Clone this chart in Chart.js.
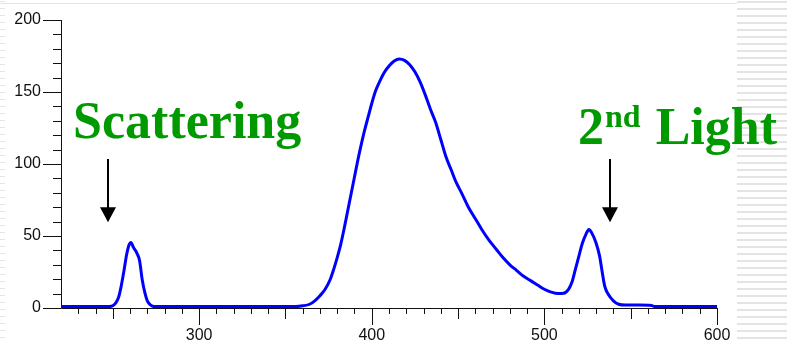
<!DOCTYPE html>
<html>
<head>
<meta charset="utf-8">
<script src="https://cdn.jsdelivr.net/npm/chart.js@4.4.1/dist/chart.umd.min.js"></script>
<style>
  html, body { margin: 0; padding: 0; background: #fff; }
  #wrap { width: 787px; height: 342px; position: relative; }
</style>
</head>
<body>
<div id="wrap"><canvas id="mycanvas" width="787" height="342"></canvas></div>
<script>
// emission spectrum
const wavelength = [220,230,240,248,250,252,253.5,255,256.5,258,259.5,260.5,262,264,265.5,267,268.5,270,272,274,290,320,350,356,
  360,364,367,370,373,376,378,380,382,384,386,388,390,392,394,396,398,400,402,404.5,407,410,413,416,419,422,425,428,431,434,
  437,440,443,446,449,452,456,460,464,468,472,476,480,484,488,492,496,500,504,508,511,514,516,518,520,522,524,525.8,527.5,
  530,532,533.5,535,537,540,543,547,555,562,564,580,600];
const intensity = [1,1,1,1,1.5,4,8,16,26,37,44,45.5,42,38,33,20,11,5,2,1,1,1,1,1,
  1.5,2.6,5,8.5,13,20,27,35,44,55,67,79,91,103,114,124,133,142,150,157,163,168,171.5,173,172,169,164,157,148,138,
  129,117,105,96,87,80,70,62,54,47,41,35,30,26,22,19,16,13,11,10,10.2,13,18,27,36,45,51,54.5,52,
  45,36,25,15,9.5,5,2.6,2,2,1.8,1,1,1];

const xMin = 220, xMax = 600;
const yMin = 0, yMax = 200;
const xLabels = [300, 400, 500, 600];
const yLabels = [0, 50, 100, 150, 200];

// annotations, positioned in data units
const notes = [
  {text: "Scattering", x: 227, y: 118, arrowX: 247, arrowTop: 103.5, arrowTip: 59.5},
  {text: "2", sup: "nd", rest: "Light", x: 519.5, y: 114, arrowX: 538.3, arrowTop: 103.5, arrowTip: 59.5}
];

const points = wavelength.map((w, i) => ({x: w, y: intensity[i]}));

const backdrop = {
  id: "backdrop",
  beforeDraw(chart) {
    const ctx = chart.ctx;
    ctx.save();
    ctx.fillStyle = "#fff";
    ctx.fillRect(0, 0, chart.width, chart.height);
    ctx.fillStyle = "#e4e4e4";
    for (let y = 1; y < chart.height; y += 7) {
      ctx.fillRect(737, y, 50, 2);
      ctx.fillRect(0, y, 5, 1);
    }
    ctx.fillRect(0, 3, 737, 1);
    ctx.restore();
  }
};

const axesPlugin = {
  id: "axesPlugin",
  beforeDatasetsDraw(chart) {
    const ctx = chart.ctx;
    const xs = chart.scales.x, ys = chart.scales.y;
    const a = chart.chartArea;
    ctx.save();
    ctx.strokeStyle = "#111";
    ctx.lineWidth = 1;
    ctx.beginPath();
    ctx.moveTo(a.left + 0.5, a.top);
    ctx.lineTo(a.left + 0.5, a.bottom + 0.5);
    ctx.lineTo(a.right, a.bottom + 0.5);
    // x ticks
    for (let v = xMin + 10; v <= xMax; v += 10) {
      const px = Math.round(xs.getPixelForValue(v)) + 0.5;
      let len = 6;
      if (v % 100 === 0) len = 17; else if (v % 50 === 0) len = 11;
      ctx.moveTo(px, a.bottom);
      ctx.lineTo(px, a.bottom + len);
    }
    // y ticks
    for (let v = yMin; v <= yMax; v += 10) {
      const py = Math.round(ys.getPixelForValue(v)) + 0.5;
      const len = v % 50 === 0 ? 18 : 8;
      ctx.moveTo(a.left, py);
      ctx.lineTo(a.left - len, py);
    }
    ctx.stroke();
    ctx.restore();
  },
  afterDraw(chart) {
    const ctx = chart.ctx;
    const xs = chart.scales.x, ys = chart.scales.y;
    ctx.save();
    notes.forEach(n => {
      const px = xs.getPixelForValue(n.x), py = ys.getPixelForValue(n.y);
      ctx.fillStyle = "#009900";
      ctx.textBaseline = "alphabetic";
      ctx.font = 'bold 52px "Liberation Serif"';
      ctx.fillText(n.text, px, py);
      if (n.sup) {
        let cx = px + ctx.measureText(n.text).width + 1;
        ctx.font = 'bold 32px "Liberation Serif"';
        ctx.fillText(n.sup, cx, py - 16.5);
        cx += ctx.measureText(n.sup).width + 15;
        ctx.font = 'bold 52px "Liberation Serif"';
        ctx.fillText(n.rest, cx, py);
      }
      // arrow
      const ax = Math.round(xs.getPixelForValue(n.arrowX));
      const top = ys.getPixelForValue(n.arrowTop), tip = ys.getPixelForValue(n.arrowTip);
      ctx.strokeStyle = "#000";
      ctx.fillStyle = "#000";
      ctx.lineWidth = 2;
      ctx.beginPath();
      ctx.moveTo(ax, top);
      ctx.lineTo(ax, tip - 10);
      ctx.stroke();
      ctx.beginPath();
      ctx.moveTo(ax - 8, tip - 15);
      ctx.lineTo(ax + 8, tip - 15);
      ctx.lineTo(ax, tip);
      ctx.closePath();
      ctx.fill();
    });
    ctx.restore();
  }
};

const ctx = document.getElementById("mycanvas").getContext("2d");
new Chart(ctx, {
  type: "line",
  data: {
    datasets: [{
      data: points,
      borderColor: "#0000ff",
      borderWidth: 3,
      pointRadius: 0,
      fill: false,
      cubicInterpolationMode: "monotone"
    }]
  },
  options: {
    responsive: false,
    animation: false,
    events: [],
    layout: { padding: { top: 20, right: 70, bottom: 0, left: 0 } },
    plugins: { legend: { display: false }, tooltip: { enabled: false } },
    scales: {
      x: {
        type: "linear",
        min: xMin, max: xMax,
        grid: { display: false, drawTicks: false },
        border: { display: false },
        afterFit(s) { s.height = 34; s.paddingLeft = 0; s.paddingRight = 0; },
        ticks: {
          stepSize: 10,
          autoSkip: false,
          maxRotation: 0,
          padding: 18,
          color: "#111",
          font: { family: '"Liberation Sans"', size: 16 },
          callback: v => xLabels.includes(v) ? String(v) : ""
        }
      },
      y: {
        min: yMin, max: yMax,
        grid: { display: false, drawTicks: false },
        border: { display: false },
        afterFit(s) { s.width = 61; s.paddingTop = 0; s.paddingBottom = 0; },
        ticks: {
          stepSize: 10,
          autoSkip: false,
          padding: 20,
          color: "#111",
          font: { family: '"Liberation Sans"', size: 16 },
          callback: v => yLabels.includes(v) ? String(v) : ""
        }
      }
    }
  },
  plugins: [backdrop, axesPlugin]
});
</script>
</body>
</html>
